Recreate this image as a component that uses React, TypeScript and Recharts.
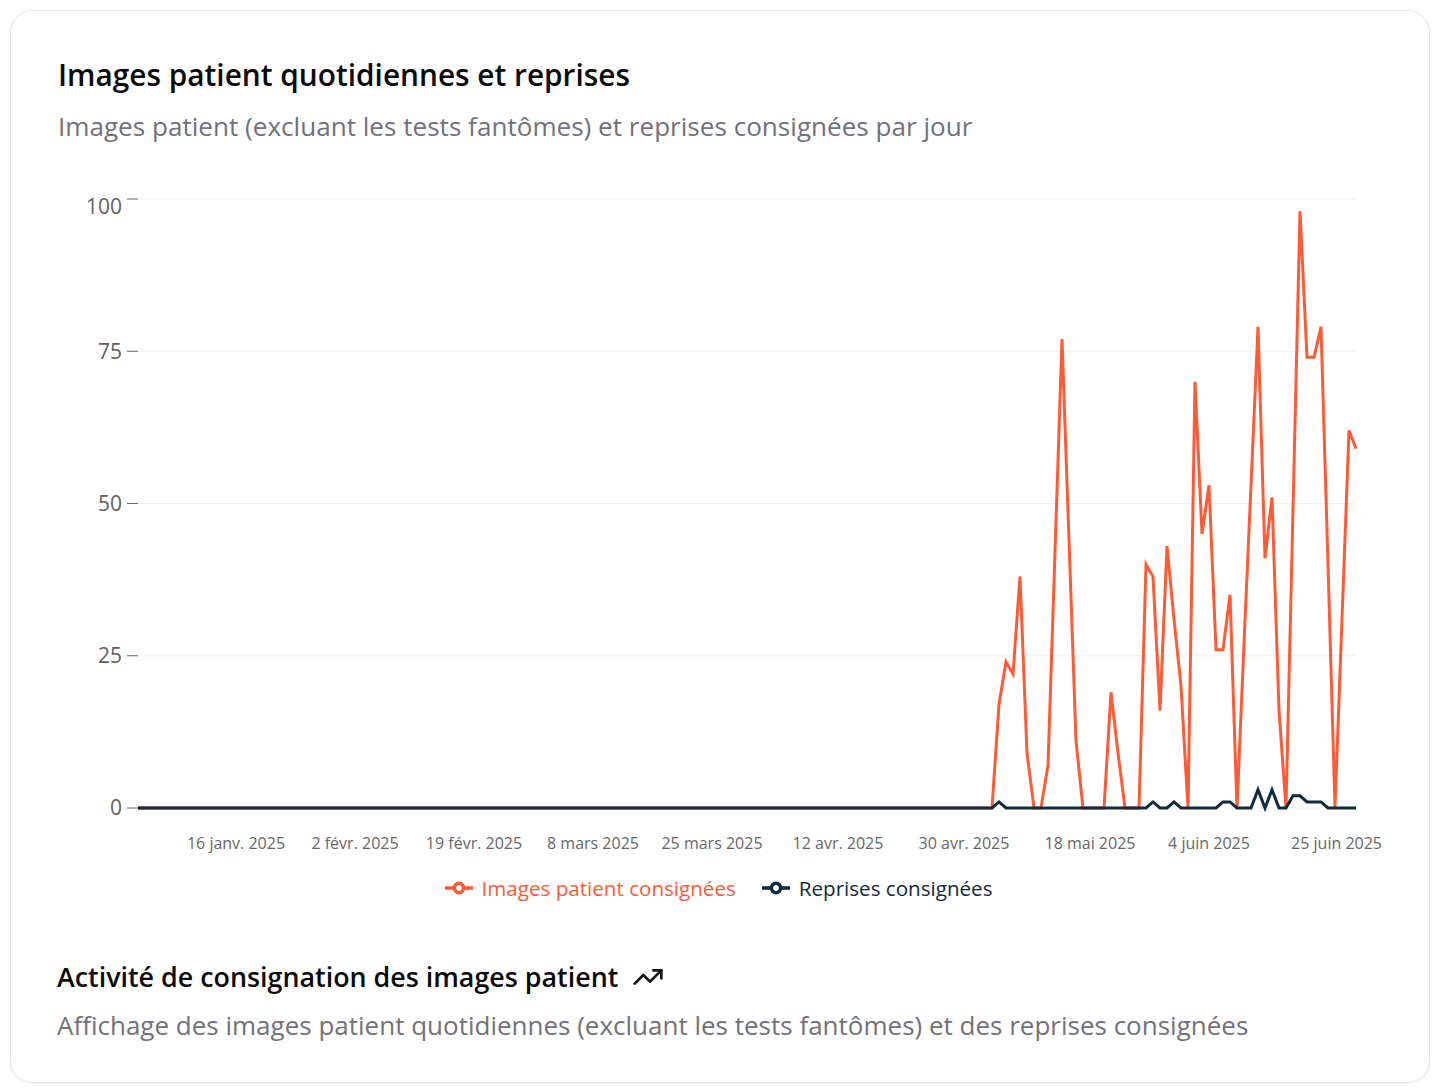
import React from 'react';
import { LineChart, Line, XAxis, YAxis, CartesianGrid, Legend } from 'recharts';

const START_DATE = '2025-01-02';

// Images patient consignées, one value per day (2 janv. -> 25 juin 2025)
const patientImages = [
  // janv. (2-31)
  0, 0, 0, 0, 0, 0, 0, 0, 0, 0,
  0, 0, 0, 0, 0, 0, 0, 0, 0, 0,
  0, 0, 0, 0, 0, 0, 0, 0, 0, 0,
  // févr.
  0, 0, 0, 0, 0, 0, 0, 0, 0, 0,
  0, 0, 0, 0, 0, 0, 0, 0, 0, 0,
  0, 0, 0, 0, 0, 0, 0, 0,
  // mars
  0, 0, 0, 0, 0, 0, 0, 0, 0, 0,
  0, 0, 0, 0, 0, 0, 0, 0, 0, 0,
  0, 0, 0, 0, 0, 0, 0, 0, 0, 0,
  0,
  // avr.
  0, 0, 0, 0, 0, 0, 0, 0, 0, 0,
  0, 0, 0, 0, 0, 0, 0, 0, 0, 0,
  0, 0, 0, 0, 0, 0, 0, 0, 0, 0,
  // mai
  0, 0, 0, 0, 17, 24, 22, 38, 9, 0,
  0, 7, 42, 77, 44, 11, 0, 0, 0, 0,
  19, 9, 0, 0, 0, 40, 38, 16, 43, 31,
  20,
  // juin (1-25)
  0, 70, 45, 53, 26, 26, 35, 0, 27, 53,
  79, 41, 51, 16, 0, 49, 98, 74, 74, 79,
  40, 0, 31, 62, 59,
];

// Reprises consignées, same days
const retakes = [
  // janv. (2-31)
  0, 0, 0, 0, 0, 0, 0, 0, 0, 0,
  0, 0, 0, 0, 0, 0, 0, 0, 0, 0,
  0, 0, 0, 0, 0, 0, 0, 0, 0, 0,
  // févr.
  0, 0, 0, 0, 0, 0, 0, 0, 0, 0,
  0, 0, 0, 0, 0, 0, 0, 0, 0, 0,
  0, 0, 0, 0, 0, 0, 0, 0,
  // mars
  0, 0, 0, 0, 0, 0, 0, 0, 0, 0,
  0, 0, 0, 0, 0, 0, 0, 0, 0, 0,
  0, 0, 0, 0, 0, 0, 0, 0, 0, 0,
  0,
  // avr.
  0, 0, 0, 0, 0, 0, 0, 0, 0, 0,
  0, 0, 0, 0, 0, 0, 0, 0, 0, 0,
  0, 0, 0, 0, 0, 0, 0, 0, 0, 0,
  // mai
  0, 0, 0, 0, 1, 0, 0, 0, 0, 0,
  0, 0, 0, 0, 0, 0, 0, 0, 0, 0,
  0, 0, 0, 0, 0, 0, 1, 0, 0, 1,
  0,
  // juin (1-25)
  0, 0, 0, 0, 0, 1, 1, 0, 0, 0,
  3, 0, 3, 0, 0, 2, 2, 1, 1, 1,
  0, 0, 0, 0, 0,
];

const tickDates = [
  '2025-01-16', '2025-02-02', '2025-02-19', '2025-03-08', '2025-03-25',
  '2025-04-12', '2025-04-30', '2025-05-18', '2025-06-04', '2025-06-25',
];
const tickLabels = [
  '16 janv. 2025', '2 févr. 2025', '19 févr. 2025', '8 mars 2025', '25 mars 2025',
  '12 avr. 2025', '30 avr. 2025', '18 mai 2025', '4 juin 2025', '25 juin 2025',
];
const yTicks = [0, 25, 50, 75, 100];

const ORANGE = '#ff5a36';
const NAVY = '#0f2b3d';
const FONT = "'Open Sans', sans-serif";

// consecutive calendar days starting at START_DATE
const dates = patientImages.map((_, i) => {
  const d = new Date(START_DATE + 'T00:00:00Z');
  d.setUTCDate(d.getUTCDate() + i);
  return d.toISOString().slice(0, 10);
});

const data = dates.map((date, i) => ({
  date,
  images: patientImages[i],
  retakes: retakes[i],
}));

const DateTick = ({ x, y, payload }: any) => {
  const i = tickDates.indexOf(payload.value);
  if (i < 0) return <g />;
  const last = payload.value === dates[dates.length - 1];
  return (
    <text
      x={x}
      y={y}
      dy="0.71em"
      dx={last ? 26 : 0}
      textAnchor={last ? 'end' : 'middle'}
      fill="#666"
      fontSize={16}
    >
      {tickLabels[i]}
    </text>
  );
};

// top label is pushed down inside the plot like the original
const ValueTick = ({ x, y, payload }: any) => (
  <text
    x={x}
    y={payload.value === yTicks[yTicks.length - 1] ? y + 8 : y}
    dy="0.355em"
    textAnchor="end"
    fill="#616161"
    fontSize={21}
  >
    {payload.value}
  </text>
);

const LegendContent = ({ payload }: any) => (
  <div
    style={{
      display: 'flex',
      justifyContent: 'center',
      alignItems: 'center',
      gap: 26,
      height: 30,
      paddingLeft: 23,
      fontSize: 20.6,
      fontFamily: FONT,
    }}
  >
    {(payload || []).map((p: any) => (
      <span key={p.value} style={{ display: 'flex', alignItems: 'center', color: p.color }}>
        <svg width={28} height={28} viewBox="0 0 32 32" style={{ marginRight: 9 }}>
          <path
            d="M0,16h10.67A5.33,5.33,0,1,1,21.33,16H32M21.33,16A5.33,5.33,0,1,1,10.67,16"
            stroke={p.color}
            strokeWidth={4}
            fill="none"
          />
        </svg>
        {p.value}
      </span>
    ))}
  </div>
);

const TrendingUp = () => (
  <svg width={32} height={32} viewBox="0 0 24 24" fill="none" stroke="#111" strokeWidth={2} strokeLinecap="round" strokeLinejoin="round">
    <polyline points="22 7 13.5 15.5 8.5 10.5 2 17" />
    <polyline points="16 7 22 7 22 13" />
  </svg>
);

export default function App() {
  return (
    <div style={{ position: 'relative', width: 1426, height: 1077, fontFamily: FONT }}>
      <div
        style={{
          position: 'absolute',
          left: 2,
          top: 2,
          width: 1418,
          height: 1071,
          border: '1px solid #e4e4e7',
          borderRadius: 22,
          background: '#fff',
          boxShadow: '0 1px 3px rgba(0,0,0,0.06)',
        }}
      />
      <div style={{ position: 'absolute', left: 50, top: 46, fontSize: 29.8, fontWeight: 600, color: '#0a0a0a', whiteSpace: 'nowrap' }}>
        Images patient quotidiennes et reprises
      </div>
      <div style={{ position: 'absolute', left: 50, top: 100, fontSize: 26.1, color: '#71717a', whiteSpace: 'nowrap' }}>
        Images patient (excluant les tests fantômes) et reprises consignées par jour
      </div>

      <div style={{ position: 'absolute', left: 50, top: 172 }}>
        <LineChart width={1340} height={723} data={data} margin={{ top: 19, right: 42, left: 0, bottom: 0 }}>
          <CartesianGrid vertical={false} stroke="#f0f0f0" />
          <XAxis
            dataKey="date"
            interval={0}
            axisLine={false}
            tickLine={false}
            tickMargin={24}
            height={65}
            tick={<DateTick />}
          />
          <YAxis
            width={80}
            domain={[0, 100]}
            ticks={yTicks}
            axisLine={false}
            tickSize={11}
            tickMargin={5}
            tickLine={{ stroke: '#666' }}
            tick={<ValueTick />}
          />
          <Legend verticalAlign="bottom" height={30} content={<LegendContent />} />
          <Line
            type="linear"
            dataKey="images"
            name="Images patient consignées"
            stroke={ORANGE}
            strokeWidth={3}
            dot={false}
            isAnimationActive={false}
          />
          <Line
            type="linear"
            dataKey="retakes"
            name="Reprises consignées"
            stroke={NAVY}
            strokeWidth={3}
            dot={false}
            isAnimationActive={false}
          />
        </LineChart>
      </div>

      <div style={{ position: 'absolute', left: 49, top: 950, display: 'flex', alignItems: 'center', gap: 14, fontSize: 26.85, fontWeight: 600, color: '#0a0a0a', whiteSpace: 'nowrap' }}>
        Activité de consignation des images patient
        <TrendingUp />
      </div>
      <div style={{ position: 'absolute', left: 49, top: 999, fontSize: 26, color: '#71717a', whiteSpace: 'nowrap' }}>
        Affichage des images patient quotidiennes (excluant les tests fantômes) et des reprises consignées
      </div>
    </div>
  );
}
